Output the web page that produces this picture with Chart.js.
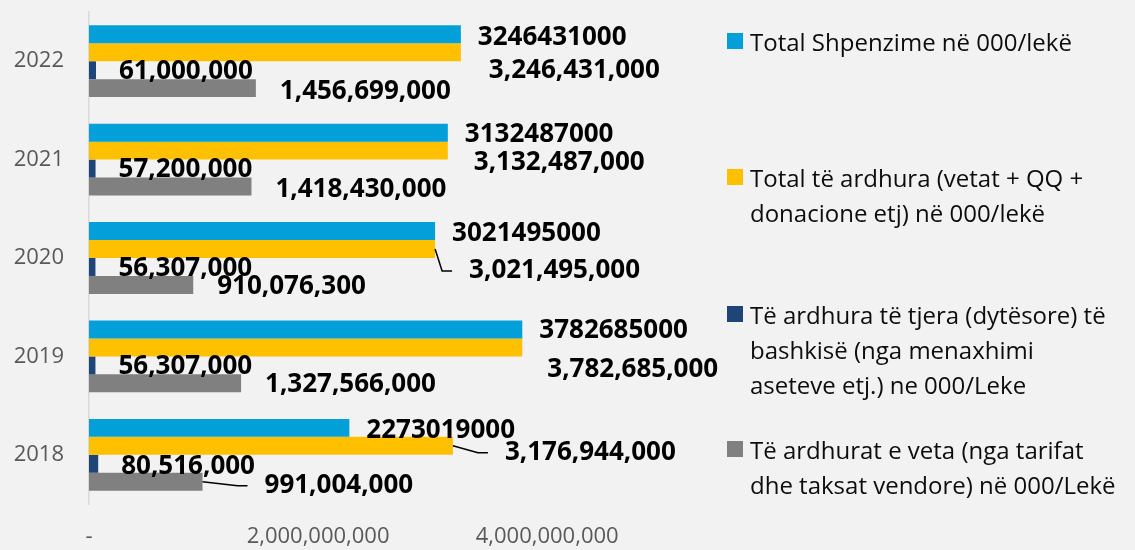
<!DOCTYPE html>
<html>
<head>
<meta charset="utf-8">
<script src="https://cdn.jsdelivr.net/npm/chart.js@4.4.1/dist/chart.umd.min.js"></script>
<style>
  html, body { margin: 0; padding: 0; background: #f2f2f2; }
  #wrap { position: relative; width: 1135px; height: 550px; overflow: hidden; }
  #chart { position: absolute; left: 0; top: 0; }
  .legend-item { position: absolute; left: 727px; font-family: 'Open Sans', sans-serif; font-size: 24px; line-height: 35px; color: #0d0d0d; white-space: pre; }
  .legend-item i { position: absolute; left: 0; width: 16px; height: 16px; }
  .legend-item span { display: block; margin-left: 23px; }
</style>
</head>
<body>
<div id="wrap">
  <canvas id="chart" width="1135" height="550"></canvas>
  <div id="legend"></div>
</div>
<script>
// data (years listed top to bottom, as in the picture)
const years = ['2022', '2021', '2020', '2019', '2018'];
const totalShpenzime = [3246431000, 3132487000, 3021495000, 3782685000, 2273019000];
const totalArdhura = [3246431000, 3132487000, 3021495000, 3782685000, 3176944000];
const ardhuraTjera = [61000000, 57200000, 56307000, 56307000, 80516000];
const ardhuratVeta = [1456699000, 1418430000, 910076300, 1327566000, 991004000];
const xTicks = [0, 2000000000, 4000000000];

const seriesNames = [
    'Total Shpenzime në 000/lekë',
    'Total të ardhura (vetat + QQ +\ndonacione etj) në 000/lekë',
    'Të ardhura të tjera (dytësore) të\nbashkisë (nga menaxhimi\naseteve etj.) ne 000/Leke',
    'Të ardhurat e veta (nga tarifat\ndhe taksat vendore) në 000/Lekë'
];
const colors = ['#029fd9', '#ffc000', '#1f4578', '#808080'];

// label nudges relative to the bar end (px), one row per series
const labelNudge = [
    { dx: [17, 17, 17, 17, 17], dy: [3, 2, 3, 1, 3] },
    { dx: [28, 26, 34, 25, 52], dy: [18, 12, 22, 22, 7] },
    { dx: [23, 23, 23, 23, 23], dy: [1, 1, 2, 1, 3] },
    { dx: [24, 24, 24, 24, 62], dy: [3, 3, 2, 1, 4] }
];
const leaders = [[1, 2], [1, 4], [3, 4]];

const fmt = v => v.toLocaleString('en-US');

const valueLabels = {
    id: 'valueLabels',
    afterDatasetsDraw(chart) {
        const ctx = chart.ctx;
        ctx.save();
        ctx.font = 'bold 26px "Open Sans"';
        ctx.textAlign = 'left';
        ctx.textBaseline = 'middle';
        ctx.fillStyle = '#000';
        ctx.strokeStyle = '#000';
        ctx.lineWidth = 1.5;
        chart.data.datasets.forEach((ds, i) => {
            const meta = chart.getDatasetMeta(i);
            meta.data.forEach((el, j) => {
                const lx = el.x + labelNudge[i].dx[j];
                const ly = el.y + labelNudge[i].dy[j];
                const txt = i === 0 ? String(ds.data[j]) : fmt(ds.data[j]);
                if (leaders.some(p => p[0] === i && p[1] === j)) {
                    ctx.beginPath();
                    ctx.moveTo(el.x, el.y);
                    ctx.lineTo(lx - 27, ly);
                    ctx.lineTo(lx - 17, ly);
                    ctx.stroke();
                }
                ctx.fillText(txt, lx, ly);
            });
        });
        ctx.restore();
    }
};

const series = [totalShpenzime, totalArdhura, ardhuraTjera, ardhuratVeta];

new Chart(document.getElementById('chart').getContext('2d'), {
    type: 'bar',
    data: {
        labels: years,
        datasets: series.map((d, i) => ({
            label: seriesNames[i],
            data: d,
            backgroundColor: colors[i],
            borderWidth: 0,
            categoryPercentage: 0.73,
            barPercentage: 1
        }))
    },
    options: {
        indexAxis: 'y',
        responsive: false,
        animation: false,
        layout: { padding: { top: 12, right: 416, left: 0, bottom: 0 } },
        plugins: {
            legend: { display: false },
            tooltip: { enabled: false }
        },
        scales: {
            x: {
                min: 0,
                max: 5500000000,
                grid: { display: false, drawTicks: false },
                border: { display: false },
                afterBuildTicks: axis => { axis.ticks = xTicks.map(v => ({ value: v })); },
                afterFit: scale => { scale.height = 46; scale.paddingLeft = 0; scale.paddingRight = 0; },
                ticks: {
                    padding: 20,
                    color: '#595959',
                    font: { family: 'Open Sans', size: 22 },
                    callback: v => v === 0 ? '-' : fmt(v)
                }
            },
            y: {
                grid: { display: false, drawTicks: false },
                border: { display: true, color: '#d9d9d9', width: 1.5 },
                afterFit: scale => { scale.width = 89; scale.paddingTop = 0; scale.paddingBottom = 0; },
                ticks: {
                    padding: 25,
                    color: '#595959',
                    font: { family: 'Open Sans', size: 22 }
                }
            }
        }
    },
    plugins: [valueLabels]
});

// legend
const legendTops = [24, 160, 297, 432];
const legend = document.getElementById('legend');
seriesNames.forEach((name, i) => {
    const item = document.createElement('div');
    item.className = 'legend-item';
    item.style.top = legendTops[i] + 'px';
    const sq = document.createElement('i');
    sq.style.background = colors[i];
    sq.style.top = '9px';
    const span = document.createElement('span');
    span.textContent = name;
    item.appendChild(sq);
    item.appendChild(span);
    legend.appendChild(item);
});
</script>
</body>
</html>
